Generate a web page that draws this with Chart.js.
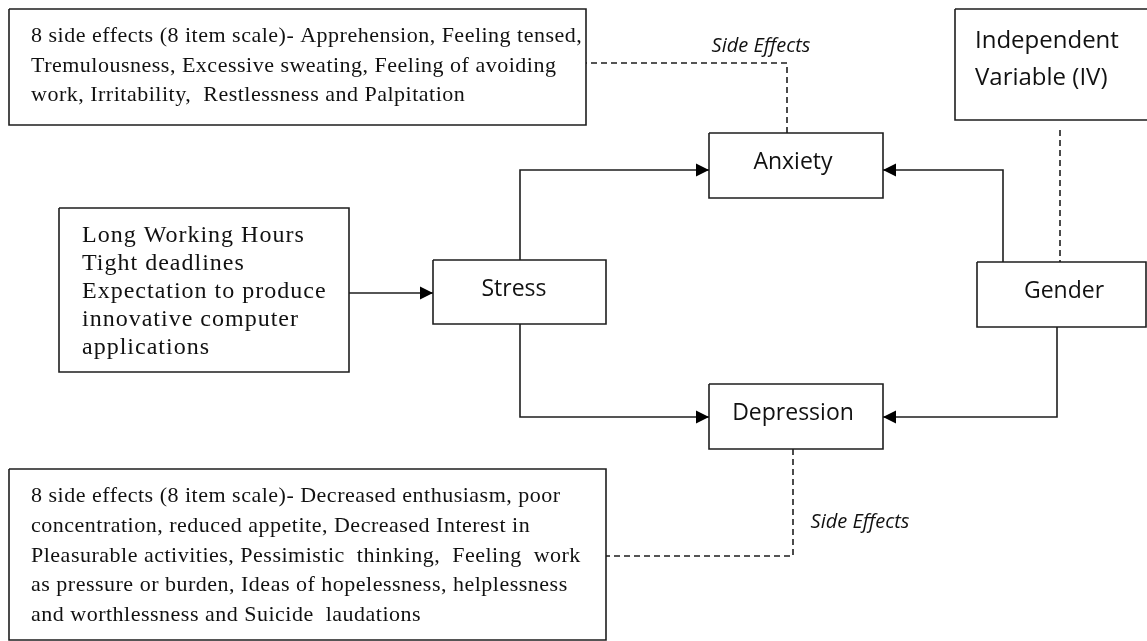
<!DOCTYPE html>
<html>
<head>
<meta charset="utf-8">
<script src="https://cdn.jsdelivr.net/npm/chart.js@4.4.1/dist/chart.umd.min.js"></script>
<style>
html, body { margin: 0; padding: 0; background: #fff; }
#wrap { width: 1147px; height: 641px; }
</style>
</head>
<body>
<div id="wrap"><canvas id="diagram" width="1147" height="641"></canvas></div>
<script>
// what the diagram says
var nodeNames = ['sideAnx', 'anxiety', 'iv', 'causes', 'stress', 'gender', 'depression', 'sideDep'];
var nodeText = [
    ['8 side effects (8 item scale)- Apprehension, Feeling tensed,',
     'Tremulousness, Excessive sweating, Feeling of avoiding',
     'work, Irritability,  Restlessness and Palpitation'],
    ['Anxiety'],
    ['Independent', 'Variable (IV)'],
    ['Long Working Hours', 'Tight deadlines', 'Expectation to produce', 'innovative computer', 'applications'],
    ['Stress'],
    ['Gender'],
    ['Depression'],
    ['8 side effects (8 item scale)- Decreased enthusiasm, poor',
     'concentration, reduced appetite, Decreased Interest in',
     'Pleasurable activities, Pessimistic  thinking,  Feeling  work',
     'as pressure or burden, Ideas of hopelessness, helplessness',
     'and worthlessness and Suicide  laudations']
];
// links: from, to, kind ('arrow' = solid with head, 'dashed' = side link)
var linkFrom = ['causes', 'stress', 'stress', 'gender', 'gender', 'anxiety', 'depression', 'iv'];
var linkTo   = ['stress', 'anxiety', 'depression', 'anxiety', 'depression', 'sideAnx', 'sideDep', 'gender'];
var linkKind = ['arrow', 'arrow', 'arrow', 'arrow', 'arrow', 'dashed', 'dashed', 'dashed'];
var linkLabel = ['', '', '', '', '', 'Side Effects', 'Side Effects', ''];

// layout (diagram units, y grows downward)
var boxLayout = {
    sideAnx:    [9, 9, 586, 125],
    anxiety:    [709, 133, 883, 198],
    iv:         [955, 9, 1152, 120],
    causes:     [59, 208, 349, 372],
    stress:     [433, 260, 606, 324],
    gender:     [977, 262, 1146, 327],
    depression: [709, 384, 883, 449],
    sideDep:    [9, 469, 606, 640]
};
var linkRoutes = [
    [[349, 293], [433, 293]],
    [[520, 260], [520, 170], [709, 170]],
    [[520, 324], [520, 417], [709, 417]],
    [[1003, 262], [1003, 170], [883, 170]],
    [[1057, 327], [1057, 417], [883, 417]],
    [[787, 133], [787, 63], [586, 63]],
    [[793, 449], [793, 556], [606, 556]],
    [[1060, 130], [1060, 262]]
];
var labelSpots = [null, null, null, null, null, [761, 52], [860, 528], null];

var serif = '"Liberation Serif", "DejaVu Serif", serif';
var sans = '"Open Sans", "Noto Sans", sans-serif';
// text placement per node: x, first baseline y, line gap, align, font, letter spacing
var textLayout = {
    sideAnx:    {x: 31, y: 42, gap: 29.5, align: 'left', font: '22px ' + serif, spacing: '0.5px'},
    anxiety:    {x: 793, y: 169, gap: 0, align: 'center', font: '23px ' + sans, spacing: '0px'},
    iv:         {x: 975, y: 48, gap: 37, align: 'left', font: '24px ' + sans, spacing: '0px'},
    causes:     {x: 82, y: 242, gap: 28, align: 'left', font: '24px ' + serif, spacing: '1px'},
    stress:     {x: 514, y: 296, gap: 0, align: 'center', font: '23px ' + sans, spacing: '0px'},
    gender:     {x: 1064, y: 298, gap: 0, align: 'center', font: '23px ' + sans, spacing: '0px'},
    depression: {x: 793, y: 420, gap: 0, align: 'center', font: '23px ' + sans, spacing: '0px'},
    sideDep:    {x: 31, y: 502, gap: 29.8, align: 'left', font: '22px ' + serif, spacing: '0.5px'}
};

var ink = '#1e1e1e';

function boxPoints(b) {
    return [{x: b[0], y: b[1]}, {x: b[2], y: b[1]}, {x: b[2], y: b[3]}, {x: b[0], y: b[3]}, {x: b[0], y: b[1]}];
}

var datasets = [];
nodeNames.forEach(function (name) {
    datasets.push({
        label: name,
        data: boxPoints(boxLayout[name]),
        showLine: true,
        borderColor: ink,
        borderWidth: 1.6,
        borderJoinStyle: 'miter',
        pointRadius: 0,
        fill: false,
        nodeName: name
    });
});
linkFrom.forEach(function (from, i) {
    datasets.push({
        label: from + '-' + linkTo[i],
        data: linkRoutes[i].map(function (p) { return {x: p[0], y: p[1]}; }),
        showLine: true,
        borderColor: ink,
        borderWidth: 1.6,
        borderDash: linkKind[i] === 'dashed' ? [6, 4] : [],
        pointRadius: 0,
        fill: false,
        linkIndex: i
    });
});

// arrow heads and all the text
var diagramText = {
    id: 'diagramText',
    afterDatasetsDraw: function (chart) {
        var ctx = chart.ctx;
        var xs = chart.scales.x, ys = chart.scales.y;
        ctx.save();
        chart.data.datasets.forEach(function (ds, di) {
            if (ds.linkIndex === undefined || linkKind[ds.linkIndex] !== 'arrow') return;
            var pts = chart.getDatasetMeta(di).data;
            var a = pts[pts.length - 2], b = pts[pts.length - 1];
            var ang = Math.atan2(b.y - a.y, b.x - a.x);
            var len = 13, half = 6.5;
            ctx.fillStyle = '#000';
            ctx.beginPath();
            ctx.moveTo(b.x, b.y);
            ctx.lineTo(b.x - len * Math.cos(ang) - half * Math.sin(ang), b.y - len * Math.sin(ang) + half * Math.cos(ang));
            ctx.lineTo(b.x - len * Math.cos(ang) + half * Math.sin(ang), b.y - len * Math.sin(ang) - half * Math.cos(ang));
            ctx.closePath();
            ctx.fill();
        });

        ctx.fillStyle = '#111';
        ctx.textBaseline = 'alphabetic';
        nodeNames.forEach(function (name, i) {
            var t = textLayout[name];
            ctx.font = t.font;
            ctx.textAlign = t.align;
            ctx.letterSpacing = t.spacing;
            nodeText[i].forEach(function (line, k) {
                ctx.fillText(line, xs.getPixelForValue(t.x), ys.getPixelForValue(t.y + k * t.gap));
            });
        });

        ctx.letterSpacing = '0px';
        ctx.font = 'italic 20px ' + sans;
        ctx.textAlign = 'center';
        linkLabel.forEach(function (lab, i) {
            if (!lab) return;
            ctx.fillText(lab, xs.getPixelForValue(labelSpots[i][0]), ys.getPixelForValue(labelSpots[i][1]));
        });
        ctx.restore();
    }
};

var diagram = document.getElementById('diagram').getContext('2d');
var chart = new Chart(diagram, {
    type: 'scatter',
    data: { datasets: datasets },
    options: {
        responsive: false,
        animation: false,
        events: [],
        layout: { padding: 0 },
        scales: {
            x: { type: 'linear', min: 0, max: 1147, display: false },
            y: { type: 'linear', min: 0, max: 641, reverse: true, display: false }
        },
        plugins: {
            legend: { display: false },
            tooltip: { enabled: false }
        }
    },
    plugins: [diagramText]
});
</script>
</body>
</html>
